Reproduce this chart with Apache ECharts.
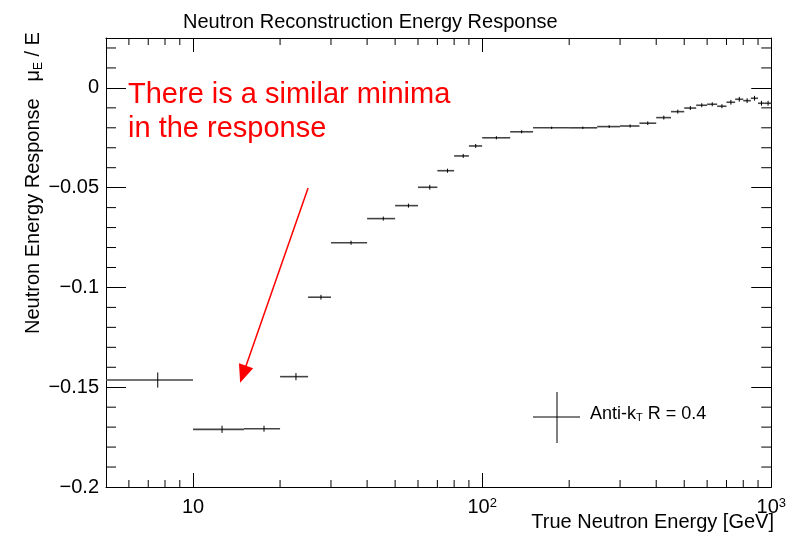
<!DOCTYPE html>
<html>
<head>
<meta charset="utf-8">
<title>Neutron Reconstruction Energy Response</title>
<script src="https://cdn.jsdelivr.net/npm/echarts@6/dist/echarts.min.js"></script>
<style>
  html, body { margin: 0; padding: 0; background: #fff; }
  #chart { width: 789px; height: 538px; }
</style>
</head>
<body>
<div id="chart"></div>
<script>
// bin edges (GeV), bin mean and response mu_E / E with its error
var binLo = [5, 10, 15, 20, 25, 30, 40, 50, 60, 70, 80, 90, 100, 125, 150, 200, 250, 300, 350, 400, 450, 500, 550, 600, 650, 700, 750, 800, 850, 900, 950]
var binHi = [10, 15, 20, 25, 30, 40, 50, 60, 70, 80, 90, 100, 125, 150, 200, 250, 300, 350, 400, 450, 500, 550, 600, 650, 700, 750, 800, 850, 900, 950, 1000]
var binMean = [7.55, 12.6, 17.6, 22.7, 27.7, 35.2, 45.5, 55.6, 65.9, 75.9, 86, 95, 112, 137, 174, 223, 275, 325, 374, 425, 475, 525, 575, 625, 675, 725, 775, 825, 875, 925, 975]
var response = [-0.1464, -0.1711, -0.1708, -0.1447, -0.1049, -0.0776, -0.0655, -0.059, -0.0498, -0.0415, -0.0341, -0.0291, -0.025, -0.022, -0.02, -0.02, -0.0194, -0.0191, -0.0177, -0.0149, -0.0119, -0.0101, -0.0087, -0.0082, -0.0092, -0.0072, -0.0057, -0.0064, -0.0052, -0.0077, -0.0077]
var respErr = [0.0038, 0.0018, 0.0015, 0.0018, 0.0012, 0.001, 0.001, 0.001, 0.0012, 0.001, 0.001, 0.001, 0.0008, 0.0008, 0.0006, 0.0006, 0.0007, 0.0008, 0.0009, 0.001, 0.001, 0.001, 0.001, 0.001, 0.001, 0.0012, 0.0012, 0.0012, 0.0012, 0.0012, 0.0012]

// minor tick values (ROOT style)
var xMinorTicks = [6, 7, 8, 9, 20, 30, 40, 50, 60, 70, 80, 90, 200, 300, 400, 500, 600, 700, 800, 900]
var yMinorTicks = [-0.19, -0.18, -0.17, -0.16, -0.14, -0.13, -0.12, -0.11, -0.09, -0.08, -0.07, -0.06, -0.04, -0.03, -0.02, -0.01, 0.01, 0.02]

// arrow annotation, in data coordinates
var arrowFrom = [25, -0.0502]
var arrowTo = [14.9, -0.1435]

var X_MIN = 5
var X_MAX = 1000
var Y_MIN = -0.2
var Y_MAX = 0.025
var FONT = '"Liberation Sans", Arial, Helvetica, sans-serif'

var chart = echarts.init(document.getElementById('chart'), null, { renderer: 'canvas' })

var barData = binLo.map(function(lo, i) {
  return [lo, binHi[i], binMean[i], response[i], respErr[i]]
})

function renderBar(params, api) {
  var y = api.value(3)
  var e = api.value(4)
  var lo = api.coord([api.value(0), y])
  var hi = api.coord([api.value(1), y])
  var top = api.coord([api.value(2), y + e])
  var bot = api.coord([api.value(2), y - e])
  return {
    type: 'group',
    children: [
      { type: 'line', shape: { x1: lo[0], y1: lo[1], x2: hi[0], y2: hi[1] }, style: { stroke: '#444', lineWidth: 1.6 } },
      { type: 'line', shape: { x1: top[0], y1: top[1], x2: bot[0], y2: bot[1] }, style: { stroke: '#000', lineWidth: 1 } }
    ]
  }
}

function renderXMinor(params, api) {
  var b = api.coord([api.value(0), Y_MIN])
  var t = api.coord([api.value(0), Y_MAX])
  return {
    type: 'group',
    children: [
      { type: 'line', shape: { x1: b[0], y1: b[1], x2: b[0], y2: b[1] - 7 }, style: { stroke: '#000', lineWidth: 1 } },
      { type: 'line', shape: { x1: t[0], y1: t[1], x2: t[0], y2: t[1] + 7 }, style: { stroke: '#000', lineWidth: 1 } }
    ]
  }
}

function renderYMinor(params, api) {
  var l = api.coord([X_MIN, api.value(0)])
  var r = api.coord([X_MAX, api.value(0)])
  return {
    type: 'group',
    children: [
      { type: 'line', shape: { x1: l[0], y1: l[1], x2: l[0] + 10, y2: l[1] }, style: { stroke: '#000', lineWidth: 1 } },
      { type: 'line', shape: { x1: r[0], y1: r[1], x2: r[0] - 10, y2: r[1] }, style: { stroke: '#000', lineWidth: 1 } }
    ]
  }
}

function xLabel(v) {
  var p = Math.round(Math.log10(v))
  if (p === 1) return '10'
  return '10{sup|' + p + '}'
}

function yLabel(v) {
  var r = Math.round(v * 1000) / 1000
  if (r === 0) return '0'
  return String(r).replace('-', '\u2212')
}

var axisLine = { show: true, onZero: false, lineStyle: { color: '#000', width: 1 } }

chart.setOption({
  animation: false,
  textStyle: { fontFamily: FONT },
  title: {
    text: 'Neutron Reconstruction Energy Response',
    left: 178,
    top: 7,
    textStyle: { fontFamily: FONT, fontSize: 20, fontWeight: 'normal', color: '#000' }
  },
  grid: { left: 106, right: 15, top: 38, bottom: 51 },
  xAxis: [
    {
      type: 'log',
      logBase: 10,
      min: X_MIN,
      max: X_MAX,
      position: 'bottom',
      axisLine: axisLine,
      axisTick: { inside: true, length: 14, lineStyle: { color: '#000' } },
      splitLine: { show: false },
      axisLabel: {
        showMinLabel: false,
        margin: 10,
        color: '#000',
        fontSize: 20,
        fontFamily: FONT,
        formatter: xLabel,
        rich: { sup: { fontSize: 13, verticalAlign: 'top', padding: [0, 0, 8, 0], fontFamily: FONT, color: '#000' } }
      }
    },
    {
      type: 'log',
      logBase: 10,
      min: X_MIN,
      max: X_MAX,
      position: 'top',
      axisLine: axisLine,
      axisTick: { inside: true, length: 14, lineStyle: { color: '#000' } },
      axisLabel: { show: false },
      splitLine: { show: false }
    }
  ],
  yAxis: [
    {
      type: 'value',
      min: Y_MIN,
      max: Y_MAX,
      interval: 0.05,
      position: 'left',
      axisLine: axisLine,
      axisTick: { inside: true, length: 20, lineStyle: { color: '#000' } },
      splitLine: { show: false },
      axisLabel: {
        showMaxLabel: false,
        margin: 7,
        color: '#000',
        fontSize: 20,
        fontFamily: FONT,
        formatter: yLabel
      }
    },
    {
      type: 'value',
      min: Y_MIN,
      max: Y_MAX,
      interval: 0.05,
      position: 'right',
      axisLine: axisLine,
      axisTick: { inside: true, length: 20, lineStyle: { color: '#000' } },
      axisLabel: { show: false },
      splitLine: { show: false }
    }
  ],
  series: [
    {
      name: 'Anti-kT R = 0.4',
      type: 'custom',
      xAxisIndex: 0,
      yAxisIndex: 0,
      renderItem: renderBar,
      encode: { x: [0, 1, 2], y: [3] },
      data: barData,
      z: 5,
      markLine: {
        silent: true,
        symbol: ['none', 'triangle'],
        symbolSize: [15, 18],
        label: { show: false },
        lineStyle: { color: '#ff0000', width: 1.5, type: 'solid' },
        data: [[{ coord: arrowFrom }, { coord: arrowTo }]]
      }
    },
    {
      type: 'custom',
      xAxisIndex: 0,
      yAxisIndex: 0,
      renderItem: renderXMinor,
      encode: { x: 0 },
      data: xMinorTicks.map(function(v) { return [v] }),
      silent: true
    },
    {
      type: 'custom',
      xAxisIndex: 0,
      yAxisIndex: 0,
      renderItem: renderYMinor,
      encode: { y: 0 },
      data: yMinorTicks.map(function(v) { return [v] }),
      silent: true
    }
  ],
  graphic: [
    // y axis title, rotated
    {
      type: 'text',
      x: 33,
      y: 183,
      rotation: Math.PI / 2,
      style: {
        text: 'Neutron Energy Response   \u03bc{sub|E} / E',
        align: 'center',
        verticalAlign: 'middle',
        fontSize: 20,
        fontFamily: FONT,
        fill: '#000',
        rich: { sub: { fontSize: 12, verticalAlign: 'bottom', padding: [12, 0, 0, 0], fontFamily: FONT, fill: '#000' } }
      }
    },
    // x axis title
    {
      type: 'text',
      right: 15,
      top: 512,
      style: { text: 'True Neutron Energy [GeV]', fontSize: 20, fontFamily: FONT, fill: '#000' }
    },
    // red annotation
    {
      type: 'text',
      left: 128,
      top: 78,
      style: {
        text: 'There is a similar minima\nin the response',
        fontSize: 29,
        lineHeight: 34,
        fontFamily: FONT,
        fill: '#ff0000'
      }
    },
    // legend entry
    { type: 'line', shape: { x1: 533, y1: 417, x2: 580, y2: 417 }, style: { stroke: '#000', lineWidth: 1 } },
    { type: 'line', shape: { x1: 557, y1: 392, x2: 557, y2: 443 }, style: { stroke: '#000', lineWidth: 1 } },
    {
      type: 'text',
      left: 590,
      top: 405,
      style: {
        text: 'Anti-k{sub|T} R = 0.4',
        fontSize: 18,
        fontFamily: FONT,
        fill: '#000',
        rich: { sub: { fontSize: 11, verticalAlign: 'bottom', padding: [8, 0, 0, 0], fontFamily: FONT, fill: '#000' } }
      }
    }
  ]
})
</script>
</body>
</html>
